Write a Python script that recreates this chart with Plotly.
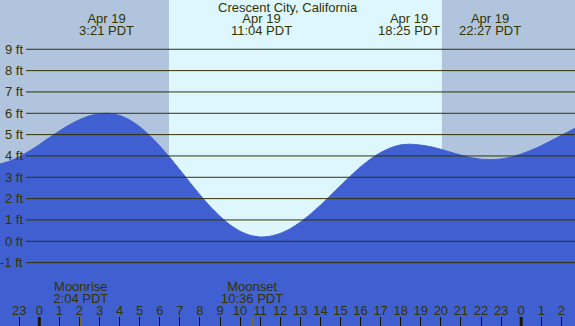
import plotly.graph_objects as go

# ---------------- data ----------------
title = "Crescent City, California"

# tide height (ft) vs hours since Apr 19 00:00 PDT
tide_hours = [-2.0, -1.5, -1.0, -0.5, 0.0, 0.5, 1.0, 1.5, 2.0, 2.5, 3.0, 3.35,
              3.5, 4.0, 4.5, 5.0, 5.5, 6.0, 6.5, 7.0, 7.5, 8.0, 8.5, 9.0, 9.5,
              10.0, 10.5, 11.0, 11.07, 11.5, 12.0, 12.5, 13.0, 13.5, 14.0,
              14.5, 15.0, 15.5, 16.0, 16.5, 17.0, 17.5, 18.0, 18.42, 18.5,
              19.0, 19.5, 20.0, 20.5, 21.0, 21.5, 22.0, 22.45, 22.5, 23.0,
              23.5, 24.0, 24.5, 25.0, 25.5, 26.0, 26.5, 27.0]
tide_feet = [3.61, 3.75, 3.96, 4.23, 4.53, 4.86, 5.17, 5.46, 5.70, 5.88, 5.98, 6.00,
             5.99, 5.90, 5.69, 5.37, 4.96, 4.47, 3.93, 3.35, 2.76, 2.18, 1.64, 1.17, 0.77,
             0.47, 0.28, 0.20, 0.20, 0.24, 0.37, 0.59, 0.90, 1.27, 1.69,
             2.15, 2.61, 3.06, 3.49, 3.86, 4.16, 4.38, 4.52, 4.55, 4.55,
             4.51, 4.43, 4.31, 4.17, 4.04, 3.92, 3.85, 3.83, 3.83, 3.86,
             3.95, 4.09, 4.27, 4.48, 4.72, 4.97, 5.21, 5.45]

# high / low tide labels
extreme_hours = [-2.70, 3.35, 11.067, 18.417, 22.45]
extreme_dates = ["Apr 18", "Apr 19", "Apr 19", "Apr 19", "Apr 19"]
extreme_times = ["21:18 PDT", "3:21 PDT", "11:04 PDT", "18:25 PDT", "22:27 PDT"]

# moon events
moon_hours = [2.067, 10.6, 26.783]
moon_names = ["Moonrise", "Moonset", "Moonrise"]
moon_times = ["2:04 PDT", "10:36 PDT", "2:47 PDT"]

# sun (night shading)
sunrise_hour = 6.46
sunset_hour = 20.05

# hour ticks
tick_hours = list(range(-2, 27))
tick_labels = [str(h % 24) for h in tick_hours]
midnight_hours = [0, 24]

# y grid levels
levels_ft = [-1, 0, 1, 2, 3, 4, 5, 6, 7, 8, 9]
level_labels = [f"{v} ft" for v in levels_ft]

# ---------------- style ----------------
W, H = 575, 326
X_RANGE = [-1.957, 26.68]
Y_RANGE = [-3.97, 11.31]
FILL = "#4060D2"
NIGHT = "#B0C4DE"
DAY = "#DEF7FF"
INK = "#333300"
FONT = "Liberation Sans"
FS = 13

fig = go.Figure()

# baseline trace for filling
fig.add_trace(go.Scatter(x=tide_hours, y=[Y_RANGE[0] - 1] * len(tide_hours),
                         mode="lines", line=dict(width=0, color=FILL),
                         hoverinfo="skip", showlegend=False))
fig.add_trace(go.Scatter(x=tide_hours, y=tide_feet, mode="lines",
                         line=dict(width=1, color=FILL, shape="spline", smoothing=0.6),
                         fill="tonexty", fillcolor=FILL, showlegend=False))

# tide extreme labels (pixel y axis)
fig.add_trace(go.Scatter(x=extreme_hours, y=[19.5] * len(extreme_hours), yaxis="y2",
                         mode="text", text=extreme_dates, cliponaxis=False,
                         textfont=dict(family=FONT, size=FS, color=INK), showlegend=False))
fig.add_trace(go.Scatter(x=extreme_hours, y=[32] * len(extreme_hours), yaxis="y2",
                         mode="text", text=extreme_times, cliponaxis=False,
                         textfont=dict(family=FONT, size=FS, color=INK), showlegend=False))
# moon labels
fig.add_trace(go.Scatter(x=moon_hours, y=[288] * len(moon_hours), yaxis="y2",
                         mode="text", text=moon_names, cliponaxis=False,
                         textfont=dict(family=FONT, size=FS, color=INK), showlegend=False))
fig.add_trace(go.Scatter(x=moon_hours, y=[299.5] * len(moon_hours), yaxis="y2",
                         mode="text", text=moon_times, cliponaxis=False,
                         textfont=dict(family=FONT, size=FS, color=INK), showlegend=False))
# hour labels
fig.add_trace(go.Scatter(x=tick_hours, y=[311.5] * len(tick_hours), yaxis="y2",
                         mode="text", text=tick_labels, cliponaxis=False,
                         textfont=dict(family=FONT, size=FS, color=INK), showlegend=False))

shapes = []
# night shading
shapes.append(dict(type="rect", xref="x", yref="paper", x0=X_RANGE[0] - 2, x1=sunrise_hour,
                   y0=0, y1=1, fillcolor=NIGHT, line=dict(width=0), layer="below"))
shapes.append(dict(type="rect", xref="x", yref="paper", x0=sunset_hour, x1=X_RANGE[1] + 2,
                   y0=0, y1=1, fillcolor=NIGHT, line=dict(width=0), layer="below"))
# grid lines
for v in levels_ft:
    shapes.append(dict(type="line", xref="paper", yref="y", x0=26 / W, x1=1, y0=v, y1=v,
                       line=dict(color=INK, width=1), layer="above"))
# midnight ticks
for h in midnight_hours:
    shapes.append(dict(type="line", xref="x", yref="paper", x0=h, x1=h, y0=0, y1=9 / H,
                       line=dict(color="#1a1a00", width=3), layer="above"))
# moon ticks
for h in moon_hours:
    shapes.append(dict(type="line", xref="x", yref="paper", x0=h, x1=h, y0=0, y1=9 / H,
                       line=dict(color="#7a6a30", width=2), layer="above"))

annotations = [dict(text=title, xref="paper", yref="paper", x=0.5, y=1 - 8 / H,
                    xanchor="center", yanchor="middle", showarrow=False,
                    font=dict(family=FONT, size=FS, color=INK))]
for v, lab in zip(levels_ft, level_labels):
    annotations.append(dict(text=lab, xref="paper", yref="y", x=25 / W, y=v,
                            xanchor="right", yanchor="middle", showarrow=False,
                            font=dict(family=FONT, size=FS, color=INK)))

fig.update_layout(
    width=W, height=H, margin=dict(l=0, r=0, t=0, b=0),
    paper_bgcolor=DAY, plot_bgcolor=DAY, showlegend=False,
    xaxis=dict(range=X_RANGE, showgrid=False, zeroline=False, showline=False,
               tickvals=tick_hours, ticks="inside", ticklen=9, tickwidth=1,
               tickcolor="#111100", showticklabels=False, fixedrange=True),
    yaxis=dict(range=Y_RANGE, showgrid=False, zeroline=False, showline=False,
               showticklabels=False, ticks="", fixedrange=True),
    yaxis2=dict(range=[H, 0], overlaying="y", visible=False, fixedrange=True),
    shapes=shapes, annotations=annotations,
)

fig.write_html("out.html", config={"displayModeBar": False},
               post_script="document.body.style.margin='0';document.body.style.overflow='hidden';")
